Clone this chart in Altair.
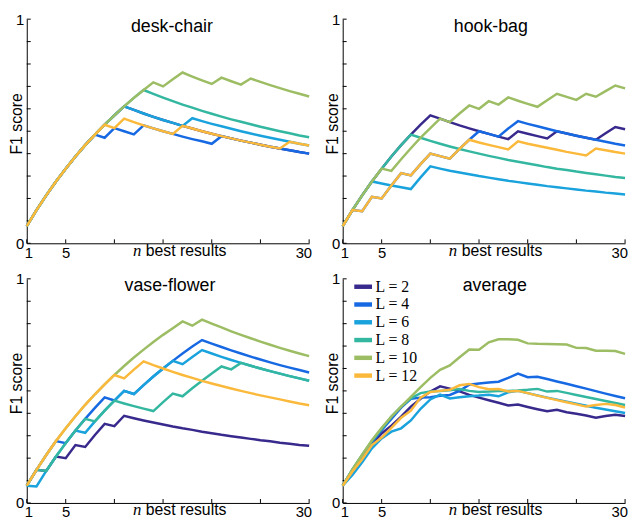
import altair as alt
import pandas as pd

panel_names = ["desk-chair", "hook-bag", "vase-flower", "average"]
L_values = [2, 4, 6, 8, 10, 12]
L_colors = ["#38298c", "#1669e2", "#19a2dc", "#34b7a0", "#9cbd63", "#fbb93c"]
n_values = list(range(1, 31))
x_tick_values = [1, 5, 10, 15, 20, 25, 30]
x_label_values = [1, 5, 30]
y_tick_values = [0.0, 0.1, 0.2, 0.3, 0.4, 0.5, 0.6, 0.7, 0.8, 0.9, 1.0]
y_label_values = [0, 1]

# desk-chair
dc_L2 = [.077, .148, .214, .276, .333, .387, .438, .485, .529, .571, .611, .595, .579, .564, .55,
         .537, .524, .512, .5, .489, .478, .468, .458, .449, .44, .431, .423, .415, .407, .4]
dc_L4 = [.077, .148, .214, .276, .333, .387, .438, .485, .471, .514, .5, .486, .526, .513, .5,
         .488, .476, .465, .455, .444, .478, .468, .458, .449, .44, .431, .423, .415, .407, .4]
dc_L6 = [.077, .148, .214, .276, .333, .387, .438, .485, .529, .571, .611, .595, .579, .564, .55,
         .537, .524, .558, .545, .533, .522, .511, .5, .49, .48, .471, .462, .453, .444, .436]
dc_L8 = [.077, .148, .214, .276, .333, .387, .438, .485, .529, .571, .611, .649, .684, .667, .65,
         .634, .619, .605, .591, .578, .565, .553, .542, .531, .52, .51, .5, .491, .481, .473]
dc_L10 = [.077, .148, .214, .276, .333, .387, .438, .485, .529, .571, .611, .649, .684, .718, .7,
          .732, .762, .744, .727, .711, .739, .723, .708, .735, .72, .706, .692, .679, .667, .655]
dc_L12 = [.077, .148, .214, .276, .333, .387, .438, .485, .529, .514, .556, .541, .526, .513, .5,
          .488, .524, .512, .5, .489, .478, .468, .458, .449, .44, .431, .423, .453, .444, .436]

# hook-bag
hb_L2 = [.077, .148, .214, .276, .333, .387, .438, .485, .529, .571, .556, .541, .526, .513, .5,
         .488, .476, .465, .5, .489, .478, .468, .5, .49, .48, .471, .462, .491, .519, .509]
hb_L4 = [.077, .148, .143, .207, .2, .258, .313, .303, .353, .4, .389, .378, .421, .462, .5,
         .488, .476, .512, .545, .533, .522, .511, .5, .49, .48, .471, .462, .453, .444, .436]
hb_L6 = [.077, .148, .214, .276, .267, .258, .25, .242, .294, .343, .333, .324, .316, .308, .3,
         .293, .286, .279, .273, .267, .261, .255, .25, .245, .24, .235, .231, .226, .222, .218]
hb_L8 = [.077, .148, .214, .276, .333, .387, .438, .485, .471, .457, .444, .432, .421, .41, .4,
         .39, .381, .372, .364, .356, .348, .34, .333, .327, .32, .314, .308, .302, .296, .291]
hb_L10 = [.077, .148, .214, .276, .333, .323, .375, .424, .471, .514, .556, .541, .579, .615, .6,
          .634, .619, .651, .636, .622, .609, .638, .667, .653, .64, .667, .654, .679, .704, .691]
hb_L12 = [.077, .148, .143, .207, .2, .258, .313, .303, .353, .4, .389, .378, .421, .462, .45,
          .439, .429, .419, .455, .444, .435, .426, .417, .408, .4, .392, .423, .415, .407, .4]

# vase-flower
vf_L2 = [.077, .148, .143, .207, .2, .258, .25, .303, .353, .343, .389, .378, .368, .359, .35,
         .341, .333, .326, .318, .311, .304, .298, .292, .286, .28, .275, .269, .264, .259, .255]
vf_L4 = [.077, .148, .214, .276, .267, .323, .375, .424, .471, .457, .5, .486, .526, .564, .6,
         .634, .667, .698, .727, .711, .696, .681, .667, .653, .64, .627, .615, .604, .593, .582]
vf_L6 = [.077, .074, .143, .207, .267, .323, .313, .364, .412, .457, .5, .486, .526, .564, .6,
         .634, .619, .651, .682, .667, .652, .638, .625, .612, .6, .588, .577, .566, .556, .545]
vf_L8 = [.077, .148, .143, .207, .267, .323, .375, .364, .412, .457, .444, .432, .421, .41, .45,
         .488, .476, .512, .545, .578, .609, .596, .625, .612, .6, .588, .577, .566, .556, .545]
vf_L10 = [.077, .148, .214, .276, .333, .387, .438, .485, .529, .571, .611, .649, .684, .718, .75,
          .78, .81, .791, .818, .8, .783, .766, .75, .735, .72, .706, .692, .679, .667, .655]
vf_L12 = [.077, .148, .214, .276, .333, .387, .438, .485, .529, .571, .556, .595, .632, .615, .6,
          .585, .571, .558, .545, .533, .522, .511, .5, .49, .48, .471, .462, .453, .444, .436]

# average
av_L2 = [.077, .145, .205, .262, .31, .345, .385, .43, .465, .497, .52, .51, .498, .482, .47,
         .458, .447, .435, .439, .428, .418, .409, .416, .405, .398, .39, .38, .388, .394, .388]
av_L4 = [.077, .148, .21, .27, .325, .375, .425, .465, .47, .472, .478, .482, .5, .528, .533,
         .537, .541, .558, .577, .561, .563, .553, .542, .532, .521, .51, .499, .488, .477, .467]
av_L6 = [.077, .125, .182, .244, .288, .318, .333, .368, .42, .462, .483, .466, .472, .476, .479,
         .483, .476, .494, .5, .49, .48, .47, .461, .452, .443, .434, .425, .417, .409, .401]
av_L8 = [.077, .15, .215, .277, .33, .385, .43, .467, .49, .497, .5, .503, .508, .5, .495,
         .497, .5, .5, .502, .505, .509, .497, .5, .491, .482, .473, .464, .455, .446, .437]
av_L10 = [.077, .15, .215, .28, .335, .385, .43, .473, .517, .558, .594, .614, .65, .685, .684,
          .717, .73, .73, .728, .712, .71, .709, .708, .707, .692, .691, .679, .679, .678, .665]
av_L12 = [.077, .14, .195, .258, .292, .335, .38, .412, .47, .495, .5, .505, .525, .531, .517,
          .507, .508, .497, .5, .49, .479, .469, .459, .449, .44, .43, .437, .442, .437, .426]

series = {
    "desk-chair": [dc_L2, dc_L4, dc_L6, dc_L8, dc_L10, dc_L12],
    "hook-bag": [hb_L2, hb_L4, hb_L6, hb_L8, hb_L10, hb_L12],
    "vase-flower": [vf_L2, vf_L4, vf_L6, vf_L8, vf_L10, vf_L12],
    "average": [av_L2, av_L4, av_L6, av_L8, av_L10, av_L12],
}

rows = []
for pname in panel_names:
    for L, vals in zip(L_values, series[pname]):
        for n, v in zip(n_values, vals):
            rows.append({"panel": pname, "L": L, "n": n, "f1": v})
df = pd.DataFrame(rows)

W, H = 286, 227
FONT = "Liberation Sans"
SERIF = "Liberation Serif"


def make_panel(name, title_x, title_y, show_legend):
    d = df[df["panel"] == name]
    xs = alt.Scale(domain=[1, 30], nice=False, zero=False)
    ys = alt.Scale(domain=[0, 1], nice=False)
    if show_legend:
        color = alt.Color(
            "L:N",
            scale=alt.Scale(domain=L_values, range=L_colors),
            legend=alt.Legend(
                orient="none", legendX=11.7, legendY=-1, title=None,
                symbolType="M-1.42,0H1.42", symbolStrokeWidth=4.5, symbolSize=160,
                labelFont=SERIF, labelFontSize=16, labelColor="black",
                labelExpr="'L = ' + datum.label", rowPadding=0,
                labelOffset=3.5, padding=0,
            ),
        )
    else:
        color = alt.Color("L:N", scale=alt.Scale(domain=L_values, range=L_colors), legend=None)

    lines = alt.Chart(d).mark_line(strokeWidth=2.5).encode(
        x=alt.X("n:Q", scale=xs, axis=alt.Axis(
            values=x_label_values, ticks=False, grid=False, title=None,
            labelFontSize=15, labelFont=FONT, labelColor="black", labelPadding=2,
            labelFlush=True, labelFlushOffset=2.5, format="d",
            domainColor="black", domainWidth=1)),
        y=alt.Y("f1:Q", scale=ys, axis=alt.Axis(
            values=y_label_values, ticks=False, grid=False, title=None,
            labelFontSize=15, labelFont=FONT, labelColor="black", labelPadding=3,
            labelFlush=False, format="d", domainColor="black", domainWidth=1)),
        color=color,
    )
    xt = alt.Chart(pd.DataFrame({"n": x_tick_values})).mark_rule(
        color="black", strokeWidth=1).encode(
        x=alt.X("n:Q"), y=alt.value(H), y2=alt.value(H - 4))
    yt = alt.Chart(pd.DataFrame({"f1": y_tick_values})).mark_rule(
        color="black", strokeWidth=1).encode(
        y=alt.Y("f1:Q"), x=alt.value(0), x2=alt.value(4))
    title = alt.Chart(pd.DataFrame({"s": [name]})).mark_text(
        font=FONT, fontSize=18, align="center", baseline="alphabetic", color="black").encode(
        text="s:N", x=alt.value(title_x), y=alt.value(title_y))
    nlab = alt.Chart(pd.DataFrame({"s": ["n"]})).mark_text(
        font=SERIF, fontStyle="italic", fontSize=17, align="right",
        baseline="alphabetic", color="black").encode(
        text="s:N", x=alt.value(116), y=alt.value(H + 12.5))
    blab = alt.Chart(pd.DataFrame({"s": ["best results"]})).mark_text(
        font=FONT, fontSize=16, align="left", baseline="alphabetic", color="black").encode(
        text="s:N", x=alt.value(120.5), y=alt.value(H + 12.5))
    f1 = alt.Chart(pd.DataFrame({"s": ["F1 score"]})).mark_text(
        font=FONT, fontSize=16, angle=270, align="center", baseline="middle",
        color="black").encode(
        text="s:N", x=alt.value(-10), y=alt.value(106))
    return alt.layer(xt, yt, lines, title, nlab, blab, f1).properties(width=W, height=H)


p1 = make_panel("desk-chair", 147, 13, False)
p2 = make_panel("hook-bag", 150, 13, False)
p3 = make_panel("vase-flower", 145, 12, False)
p4 = make_panel("average", 154, 12, True)

chart = alt.concat(
    p1, p2, p3, p4, columns=2, spacing={"row": 36, "column": 34}, bounds="flush"
).resolve_scale(color="independent").properties(
    padding={"left": 0, "top": 0, "right": 0, "bottom": 0}
).configure_view(stroke="transparent")

chart.save("out.html", embed_options={"renderer": "svg", "actions": False})
